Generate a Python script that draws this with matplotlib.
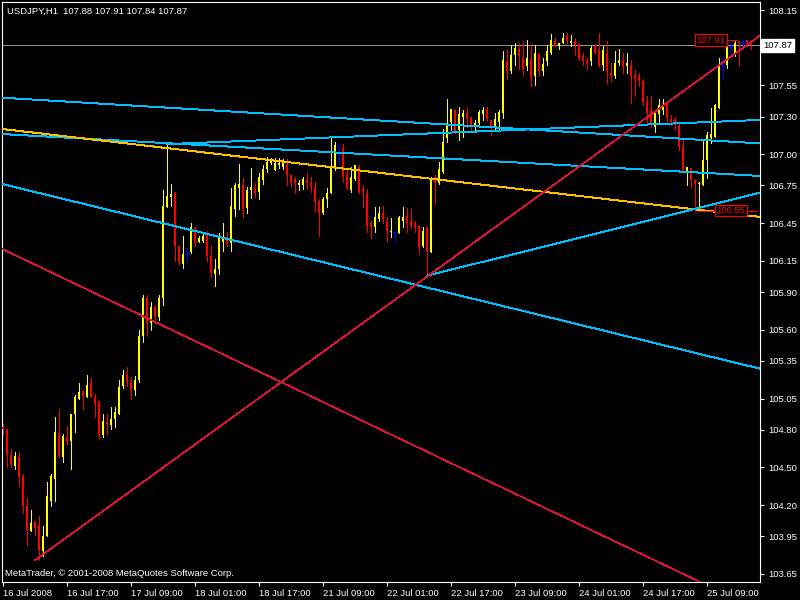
import matplotlib
matplotlib.use("Agg")
import matplotlib.pyplot as plt

plt.rcParams['font.family'] = ['Liberation Sans', 'DejaVu Sans']

header = "USDJPY,H1  107.88 107.91 107.84 107.87"
footer = "MetaTrader, \u00a9 2001-2008 MetaQuotes Software Corp."

# hourly bars, one row per bar: open, high, low, close
ohlc = [
    (104.82, 104.85, 104.77, 104.81), (104.81, 104.81, 104.50, 104.61), (104.60, 104.65, 104.50, 104.53),
    (104.51, 104.62, 104.49, 104.59), (104.58, 104.62, 104.35, 104.42), (104.43, 104.45, 104.14, 104.19),
    (104.19, 104.26, 103.88, 104.00), (103.99, 104.16, 103.99, 104.06), (104.07, 104.07, 103.96, 104.02),
    (104.04, 104.11, 103.76, 103.84), (103.83, 104.03, 103.79, 103.95), (103.95, 104.38, 103.95, 104.27),
    (104.23, 104.45, 104.19, 104.43), (104.41, 104.90, 104.23, 104.78), (104.77, 104.97, 104.58, 104.59),
    (104.58, 104.77, 104.54, 104.75), (104.74, 104.83, 104.69, 104.70), (104.71, 104.93, 104.49, 104.93),
    (104.93, 105.08, 104.78, 105.06), (105.05, 105.17, 105.05, 105.10), (105.11, 105.11, 104.97, 105.08),
    (105.06, 105.24, 105.06, 105.16), (105.17, 105.21, 105.06, 105.06), (105.06, 105.09, 104.90, 105.01),
    (105.03, 105.03, 104.73, 104.77), (104.76, 104.93, 104.74, 104.87), (104.86, 104.93, 104.77, 104.85),
    (104.84, 104.98, 104.81, 104.89), (104.89, 104.98, 104.82, 104.94), (104.93, 105.20, 104.93, 105.14),
    (105.15, 105.28, 105.13, 105.24), (105.24, 105.30, 105.15, 105.18), (105.18, 105.22, 105.05, 105.12),
    (105.12, 105.23, 105.08, 105.20), (105.20, 105.60, 105.18, 105.55), (105.55, 105.88, 105.50, 105.85),
    (105.85, 105.88, 105.55, 105.65), (105.65, 105.82, 105.60, 105.78), (105.78, 105.80, 105.65, 105.70),
    (105.70, 105.88, 105.68, 105.85), (105.85, 106.71, 105.80, 106.59), (106.58, 107.08, 106.58, 106.67),
    (106.66, 106.76, 106.59, 106.68), (106.69, 106.70, 106.15, 106.27), (106.27, 106.27, 106.12, 106.14),
    (106.12, 106.35, 106.09, 106.20), (106.21, 106.26, 106.14, 106.21), (106.22, 106.45, 106.21, 106.42),
    (106.41, 106.42, 106.27, 106.30), (106.30, 106.35, 106.30, 106.33), (106.31, 106.38, 106.30, 106.35),
    (106.36, 106.39, 106.15, 106.19), (106.19, 106.27, 106.02, 106.05), (106.04, 106.16, 105.95, 106.08),
    (106.08, 106.37, 106.04, 106.34), (106.30, 106.45, 106.23, 106.34), (106.34, 106.38, 106.27, 106.29),
    (106.29, 106.73, 106.23, 106.59), (106.56, 106.77, 106.51, 106.75), (106.73, 106.92, 106.56, 106.76),
    (106.75, 106.81, 106.50, 106.56), (106.57, 106.74, 106.53, 106.71), (106.71, 106.89, 106.65, 106.74),
    (106.73, 106.77, 106.66, 106.69), (106.70, 106.85, 106.64, 106.82), (106.79, 106.91, 106.76, 106.88),
    (106.88, 106.98, 106.86, 106.94), (106.93, 106.97, 106.92, 106.95), (106.87, 106.97, 106.87, 106.93),
    (106.91, 106.97, 106.89, 106.93), (106.90, 106.96, 106.88, 106.94), (106.92, 106.96, 106.75, 106.83),
    (106.83, 106.84, 106.74, 106.78), (106.80, 106.82, 106.69, 106.77), (106.75, 106.79, 106.71, 106.77),
    (106.75, 106.82, 106.72, 106.80), (106.79, 106.85, 106.72, 106.77), (106.77, 106.82, 106.70, 106.74),
    (106.74, 106.78, 106.54, 106.63), (106.63, 106.64, 106.35, 106.53), (106.53, 106.66, 106.52, 106.64),
    (106.64, 106.73, 106.58, 106.69), (106.69, 107.14, 106.69, 106.90), (106.90, 107.10, 106.87, 107.07),
    (107.06, 107.07, 106.93, 107.06), (107.05, 107.08, 106.78, 106.82), (106.84, 106.89, 106.72, 106.73),
    (106.71, 106.90, 106.70, 106.82), (106.80, 106.91, 106.79, 106.91), (106.90, 106.91, 106.69, 106.70),
    (106.72, 106.75, 106.58, 106.69), (106.68, 106.72, 106.38, 106.43), (106.45, 106.47, 106.33, 106.42),
    (106.42, 106.58, 106.38, 106.50), (106.48, 106.58, 106.47, 106.53), (106.53, 106.59, 106.45, 106.48),
    (106.47, 106.50, 106.31, 106.39), (106.38, 106.49, 106.34, 106.39), (106.38, 106.39, 106.30, 106.38),
    (106.37, 106.51, 106.37, 106.50), (106.47, 106.58, 106.42, 106.50), (106.51, 106.57, 106.38, 106.45),
    (106.47, 106.57, 106.41, 106.43), (106.45, 106.47, 106.38, 106.41), (106.43, 106.43, 106.20, 106.26),
    (106.27, 106.42, 106.26, 106.39), (106.42, 106.43, 106.03, 106.23), (106.22, 106.82, 106.22, 106.81),
    (106.82, 106.83, 106.60, 106.77), (106.77, 106.94, 106.76, 106.88), (106.86, 107.20, 106.85, 107.10),
    (107.13, 107.44, 107.10, 107.25), (107.26, 107.36, 107.19, 107.36), (107.35, 107.35, 107.17, 107.18),
    (107.19, 107.38, 107.11, 107.32), (107.30, 107.35, 107.14, 107.33), (107.33, 107.38, 107.22, 107.28),
    (107.30, 107.30, 107.19, 107.22), (107.22, 107.27, 107.19, 107.25), (107.25, 107.35, 107.22, 107.34),
    (107.32, 107.38, 107.27, 107.35), (107.36, 107.38, 107.27, 107.28), (107.27, 107.27, 107.15, 107.22),
    (107.22, 107.33, 107.20, 107.28), (107.26, 107.35, 107.20, 107.34), (107.33, 107.82, 107.29, 107.75),
    (107.74, 107.83, 107.60, 107.66), (107.66, 107.87, 107.65, 107.79), (107.79, 107.89, 107.71, 107.85),
    (107.84, 107.88, 107.68, 107.78), (107.77, 107.90, 107.63, 107.68), (107.70, 107.91, 107.67, 107.77),
    (107.76, 107.88, 107.54, 107.61), (107.62, 107.87, 107.55, 107.81), (107.80, 107.81, 107.62, 107.66),
    (107.66, 107.77, 107.63, 107.72), (107.74, 107.87, 107.71, 107.82), (107.81, 107.96, 107.80, 107.91),
    (107.90, 107.93, 107.86, 107.86), (107.86, 107.89, 107.84, 107.89), (107.89, 107.97, 107.89, 107.93),
    (107.94, 107.97, 107.89, 107.90), (107.89, 107.95, 107.86, 107.90), (107.90, 107.93, 107.79, 107.87),
    (107.88, 107.89, 107.75, 107.76), (107.78, 107.81, 107.71, 107.74), (107.74, 107.77, 107.68, 107.72),
    (107.74, 107.86, 107.71, 107.85), (107.86, 107.88, 107.81, 107.81), (107.83, 107.97, 107.70, 107.70),
    (107.71, 107.86, 107.67, 107.83), (107.81, 107.90, 107.57, 107.66), (107.65, 107.73, 107.58, 107.62),
    (107.62, 107.82, 107.61, 107.73), (107.73, 107.84, 107.71, 107.75), (107.74, 107.81, 107.65, 107.70),
    (107.70, 107.81, 107.65, 107.73), (107.71, 107.75, 107.41, 107.62), (107.63, 107.67, 107.46, 107.60),
    (107.62, 107.65, 107.54, 107.58), (107.58, 107.60, 107.39, 107.42), (107.42, 107.46, 107.25, 107.33),
    (107.35, 107.46, 107.22, 107.23), (107.22, 107.35, 107.18, 107.33), (107.32, 107.44, 107.26, 107.39),
    (107.35, 107.44, 107.32, 107.39), (107.40, 107.42, 107.26, 107.29), (107.28, 107.31, 107.23, 107.26),
    (107.28, 107.30, 107.20, 107.23), (107.23, 107.24, 107.03, 107.06), (107.06, 107.14, 106.85, 106.87),
    (106.86, 106.90, 106.75, 106.90), (106.89, 106.89, 106.74, 106.79), (106.79, 106.80, 106.55, 106.76),
    (106.76, 106.78, 106.55, 106.77), (106.75, 107.11, 106.75, 106.95), (106.95, 107.18, 106.81, 107.15),
    (107.13, 107.37, 107.09, 107.16), (107.14, 107.40, 107.14, 107.39), (107.37, 107.77, 107.37, 107.70),
    (107.71, 107.77, 107.59, 107.71), (107.71, 107.91, 107.69, 107.89), (107.86, 107.91, 107.78, 107.86),
    (107.79, 107.91, 107.78, 107.89), (107.90, 107.90, 107.71, 107.89), (107.89, 107.91, 107.83, 107.89),
    (107.91, 107.91, 107.86, 107.89), (107.88, 107.91, 107.84, 107.87),
]

time_labels = ['16 Jul 2008', '16 Jul 17:00', '17 Jul 09:00', '18 Jul 01:00', '18 Jul 17:00',
               '21 Jul 09:00', '22 Jul 01:00', '22 Jul 17:00', '23 Jul 09:00', '24 Jul 01:00',
               '24 Jul 17:00', '25 Jul 09:00']
price_ticks = [108.15, 107.55, 107.30, 107.00, 106.75, 106.45, 106.15, 105.90,
               105.60, 105.35, 105.05, 104.80, 104.50, 104.20, 103.95, 103.65]
bid = 107.87

# trend line anchors (bar index, price)
blue_lines = [((0, 107.45), (187, 107.09)), ((0, 107.16), (187, 106.83)), ((0, 106.76), (189, 105.29))]
blue_rays = [((41, 107.08), (187, 107.27)), ((106, 106.03), (189, 106.69))]
gold_lines = [((0, 107.20), (189, 106.50))]
red_lines = [((0, 106.24), (174, 103.59))]
red_rays = [((8, 103.76), (189, 107.94))]
# price labels: (bar of the extreme, label centre bar, price, line end bar)
price_marks = [(174, 177, 107.91, 183.5), (174, 182, 106.55, 188.2)]

UP, DOWN, DOJI = '#FFFF00', '#FF0000', '#0000FF'
LW = 0.7  # about one pixel
xmin, xmax = -0.25, 189.25

fig = plt.figure(figsize=(8, 6), dpi=100, facecolor='black')
ax = fig.add_axes([2 / 800, 1 - 582 / 600, 758 / 800, 580 / 600])
ax.set_facecolor('black')

ax.axhline(bid, color='#8A96A4', lw=LW, zorder=1, antialiased=False)

for i, (o, h, l, c) in enumerate(ohlc):
    col = UP if c > o else DOWN if c < o else DOJI
    ax.vlines(i, l, h, color=col, lw=LW, zorder=2, antialiased=False)
    if c == o:
        ax.hlines(o, i - 0.4, i + 0.4, color=col, lw=LW, zorder=3, antialiased=False)
    else:
        ax.bar(i, max(abs(c - o), 0.008), bottom=min(o, c), width=0.62, color=col, lw=0,
               zorder=3, antialiased=False)

for p1, p2 in blue_lines:
    ax.axline(p1, p2, color='#00BFFF', lw=LW, zorder=4, antialiased=False)
for p1, p2 in gold_lines:
    ax.axline(p1, p2, color='#FFC000', lw=LW, zorder=4, antialiased=False)
for p1, p2 in red_lines:
    ax.axline(p1, p2, color='#DC143C', lw=0.5, zorder=4, antialiased=False)
for (x1, y1), (x2, y2), col, w in [(a, b, '#00BFFF', LW) for a, b in blue_rays] + \
                                  [(a, b, '#DC143C', 0.5) for a, b in red_rays]:
    k = (y2 - y1) / (x2 - x1)
    ax.plot([x1, xmax], [y1, y1 + k * (xmax - x1)], color=col, lw=w, zorder=4,
            antialiased=False)

for x0, xc, p, x1 in price_marks:
    ax.hlines(p, x0, x1, color='#FF0000', lw=LW, zorder=5, antialiased=False)
    ax.text(xc, p, f'{p:.2f}', color='#FF0000', fontsize=6.8, ha='center', va='center',
            zorder=6, bbox=dict(boxstyle='square,pad=0.15', fc='black', ec='#FF0000', lw=0.8))

ax.set_xlim(xmin, xmax)
ax.set_ylim(103.586, 108.214)

ax.set_xticks(range(0, 16 * len(time_labels), 16))
ax.set_xticklabels(time_labels)
for lab in ax.get_xticklabels():
    lab.set_ha('left')
ax.yaxis.tick_right()
ax.set_yticks(price_ticks)
ax.set_yticklabels([f'{v:.2f}' for v in price_ticks])
ax.tick_params(colors='white', labelcolor='white', labelsize=6.8, length=3, width=0.8,
               direction='out')
ax.tick_params(axis='x', pad=2)
ax.tick_params(axis='y', pad=3)
for s in ax.spines.values():
    s.set_color('white')
    s.set_linewidth(0.8)

ax.text(1.0 + 3 / 758, bid, f'{bid:.2f}', transform=ax.get_yaxis_transform(),
        color='black', fontsize=6.8, ha='left', va='center',
        bbox=dict(boxstyle='square,pad=0.2', fc='white', ec='white'))

fig.text(7 / 800, 1 - 11 / 600, header, color='white', fontsize=6.8, ha='left', va='center')
fig.text(5 / 800, 1 - 574 / 600, footer, color='white', fontsize=6.8, ha='left', va='center')

fig.savefig('out.png', dpi=100, facecolor='black')
